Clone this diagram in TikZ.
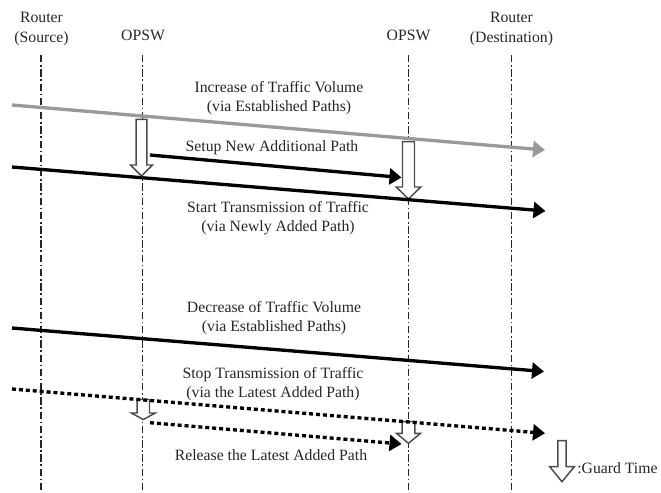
\documentclass[tikz,border=0pt]{standalone}
\usepackage{fontspec}
\setmainfont{Liberation Serif}
\usetikzlibrary{arrows.meta}
\newcommand\guardarr[6]{%
  \draw[guardbox] (#1-#5,#2) -- (#1+#5,#2) -- (#1+#5,#3) -- (#1+#6,#3) -- (#1,#4) -- (#1-#6,#3) -- (#1-#5,#3) -- cycle;}
\begin{document}
\begin{tikzpicture}[x=0.75pt,y=-0.75pt,
  life/.style={line width=0.9pt, dash pattern=on 5.5pt off 2pt on 1.2pt off 2pt, black!85},
  msg/.style={line width=2.5pt, -{Triangle[length=9pt,width=12pt]}},
  graymsg/.style={msg, color=black!40},
  dotmsg/.style={msg, dash pattern=on 3pt off 2.2pt},
  guardbox/.style={draw=black!70, fill=white, line width=1.1pt, line join=miter},
  lbl/.style={font=\fontsize{11.8}{14.3}\selectfont, align=center, inner sep=0pt, text=black!85}
]
\useasboundingbox (0,0) rectangle (661,493);
% lifeline heads
\node[lbl] (rs) at (41.5,29) {Router\\(Source)};
\node[lbl] (op1) at (143,35.5) {OPSW};
\node[lbl] (op2) at (408.5,35.5) {OPSW};
\node[lbl] (rd) at (511.5,29) {Router\\(Destination)};
% lifelines
\coordinate (sT) at (41,55);  \coordinate (sB) at (41,493);
\coordinate (aT) at (142.5,55); \coordinate (aB) at (142.5,493);
\coordinate (bT) at (408.5,55); \coordinate (bB) at (408.5,493);
\coordinate (dT) at (511.5,55); \coordinate (dB) at (511.5,493);
\draw[life] (sT) -- (sB);
\draw[life] (aT) -- (aB);
\draw[life] (bT) -- (bB);
\draw[life] (dT) -- (dB);
% guard times
\guardarr{141.5}{119.3}{165}{176}{5.3}{11}
\guardarr{408.5}{141.7}{187}{199}{6}{12.3}
\guardarr{143.3}{399.5}{413}{419.5}{6.2}{12}
\guardarr{408.5}{421.7}{433.3}{443.3}{6.3}{12}
\guardarr{562}{440.7}{466.7}{481.7}{4.2}{12.3}
% messages
\coordinate (g1) at (12,105); \coordinate (g2) at (545,150);
\draw[graymsg] (g1) -- (g2);
\coordinate (n1) at (150,155); \coordinate (n2) at (401.5,177.5);
\draw[msg] (n1) -- (n2);
\coordinate (t1) at (12,167); \coordinate (t2) at (545.5,211);
\draw[msg] (t1) -- (t2);
\coordinate (e1) at (12,328); \coordinate (e2) at (544,371.5);
\draw[msg] (e1) -- (e2);
\coordinate (p1) at (12,389); \coordinate (p2) at (545,433.3);
\draw[dotmsg] (p1) -- (p2);
\coordinate (r1) at (150,422.7); \coordinate (r2) at (401.5,444);
\draw[dotmsg] (r1) -- (r2);
% labels
\node[lbl] (l1) at (279,98) {Increase of Traffic Volume\\(via Established Paths)};
\node[lbl] (l2) at (272,147.7) {Setup New Additional Path};
\node[lbl] (l3) at (278,218.5) {Start Transmission of Traffic\\(via Newly Added Path)};
\node[lbl] (l4) at (274,318.5) {Decrease of Traffic Volume\\(via Established Paths)};
\node[lbl] (l5) at (273,384) {Stop Transmission of Traffic\\(via the Latest Added Path)};
\node[lbl] (l6) at (271,455) {Release the Latest Added Path};
\node[lbl, anchor=west] (l7) at (577,468.3) {:Guard Time};
\end{tikzpicture}
\end{document}
